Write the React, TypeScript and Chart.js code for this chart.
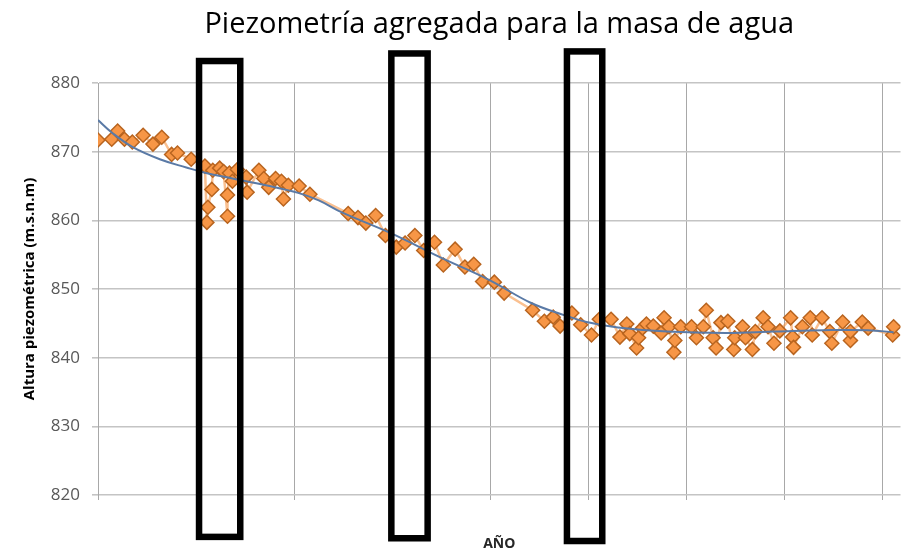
import React, { useEffect, useRef } from "react";
import { Chart, registerables } from "chart.js";

Chart.register(...registerables);

const TITLE = "Piezometría agregada para la masa de agua";
const Y_TITLE = "Altura piezométrica (m.s.n.m)";
const X_TITLE = "AÑO";

// Observations (x in axis-grid units, y in m.s.n.m)
const obsX = [
  0.0, 0.14, 0.2, 0.27, 0.35, 0.46, 0.56, 0.65, 0.75, 0.81, 0.95, 1.09, 1.11, 1.12, 1.16, 1.17,
  1.24, 1.28, 1.32, 1.32, 1.34, 1.37, 1.42, 1.51, 1.52, 1.64, 1.69, 1.74, 1.81, 1.87, 1.89, 1.94,
  2.05, 2.16, 2.55, 2.65, 2.73, 2.83, 2.93, 3.04, 3.13, 3.23, 3.32, 3.43, 3.52, 3.64, 3.74, 3.83,
  3.92, 4.04, 4.14, 4.43, 4.55, 4.64, 4.71, 4.83, 4.92, 5.03, 5.11, 5.23, 5.32, 5.39, 5.42, 5.49,
  5.51, 5.55, 5.59, 5.66, 5.74, 5.77, 5.82, 5.87, 5.88, 5.94, 6.05, 6.1, 6.17, 6.2, 6.27, 6.3, 6.35,
  6.42, 6.48, 6.49, 6.57, 6.6, 6.67, 6.7, 6.78, 6.83, 6.89, 6.95, 7.06, 7.08, 7.09, 7.18, 7.26, 7.28,
  7.38, 7.46, 7.48, 7.59, 7.67, 7.67, 7.79, 7.85, 8.1, 8.11,
];
const obsY = [
  871.7, 871.8, 873.0, 871.8, 871.4, 872.4, 871.1, 872.1, 869.6, 869.8, 868.9, 867.9, 859.7, 861.9, 864.5, 867.3,
  867.6, 867.1, 860.6, 863.7, 866.9, 865.7, 867.4, 866.3, 864.1, 867.3, 866.1, 864.8, 866.1, 865.7, 863.1, 865.1,
  865.0, 863.8, 861.0, 860.4, 859.6, 860.7, 857.8, 856.1, 856.7, 857.8, 855.6, 856.8, 853.5, 855.8, 853.2, 853.6,
  851.1, 851.0, 849.4, 846.9, 845.3, 845.9, 844.6, 846.5, 844.8, 843.3, 845.6, 845.6, 843.0, 844.9, 843.5, 841.4,
  842.9, 844.3, 844.9, 844.6, 843.6, 845.8, 844.5, 840.8, 842.5, 844.5, 844.5, 842.9, 844.5, 846.9, 842.9, 841.4, 845.1,
  845.3, 841.2, 842.9, 844.5, 842.9, 841.2, 843.8, 845.8, 844.5, 842.1, 843.9, 845.8, 843.0, 841.5, 844.5, 845.8, 843.3,
  845.8, 843.8, 842.1, 845.2, 842.5, 843.8, 845.2, 844.3, 843.3, 844.5,
];

// Trend line
const trendX = [0, 0.14, 0.35, 0.63, 0.9, 1.1, 1.37, 1.71, 2.04, 2.25, 2.48, 2.99, 3.49, 3.99, 4.41, 4.75, 4.98, 5.3, 5.8, 6.4, 6.9, 7.4, 7.85, 8.11];
const trendY = [874.6, 872.8, 870.7, 868.9, 867.7, 866.9, 866.1, 865.1, 864.0, 862.9, 861.2, 858.1, 854.6, 851.3, 848.0, 846.2, 845.2, 844.4, 843.8, 843.6, 843.8, 844.0, 844.0, 843.7];

// Highlight boxes (axis units)
const boxX0 = [1.03, 2.99, 4.78];
const boxX1 = [1.45, 3.36, 5.14];
const boxYTop = [883.2, 884.3, 884.6];
const boxYBottom = [813.9, 813.7, 813.3];

const X_MIN = 0;
const X_MAX = 8.18;
const Y_MIN = 820;
const Y_MAX = 880;

const boxesPlugin = {
  id: "boxes",
  afterDraw(chart: any) {
    const { ctx, scales } = chart;
    const xs = scales.x;
    const ys = scales.y;
    ctx.save();
    ctx.strokeStyle = "#000000";
    ctx.lineWidth = 6.5;
    for (let i = 0; i < boxX0.length; i++) {
      const l = xs.getPixelForValue(boxX0[i]);
      const r = xs.getPixelForValue(boxX1[i]);
      const t = ys.getPixelForValue(boxYTop[i]);
      const b = ys.getPixelForValue(boxYBottom[i]);
      ctx.strokeRect(l, t, r - l, b - t);
    }
    ctx.restore();
  },
};

export default function App() {
  const ref = useRef<HTMLCanvasElement>(null);
  useEffect(() => {
    document.body.style.margin = "0";
    const canvas = ref.current;
    if (!canvas) return;
    Chart.defaults.font.family = "'Open Sans', sans-serif";
    const chart = new Chart(canvas, {
      type: "scatter",
      data: {
        datasets: [
          {
            label: "Tendencia",
            data: trendX.map((x, i) => ({ x, y: trendY[i] })),
            showLine: true,
            borderColor: "#5a7aa6",
            borderWidth: 2,
            pointRadius: 0,
            tension: 0.4,
            order: 0,
          },
          {
            label: "Piezometría",
            data: obsX.map((x, i) => ({ x, y: obsY[i] })),
            showLine: true,
            borderColor: "rgba(247,150,70,0.6)",
            borderWidth: 2.5,
            pointStyle: "rectRot",
            pointRadius: 7,
            pointBackgroundColor: "#f79646",
            pointBorderColor: "#b8641f",
            pointBorderWidth: 1.5,
            order: 1,
          },
        ],
      },
      options: {
        responsive: false,
        animation: false,
        events: [],
        layout: { padding: { left: 0, right: 3, top: 0, bottom: 0 } },
        plugins: {
          legend: { display: false },
          tooltip: { enabled: false },
          title: {
            display: true,
            fullSize: false,
            text: TITLE,
            color: "#000000",
            font: { size: 29, weight: "normal", lineHeight: 1.2 },
            padding: { top: 7.6, bottom: 40.6 },
          },
        },
        scales: {
          x: {
            type: "linear",
            min: X_MIN,
            max: X_MAX,
            ticks: { display: false, stepSize: 1, includeBounds: false },
            grid: { color: "#a8a8a8", lineWidth: 1, tickLength: 5, drawTicks: true },
            border: { display: false },
            title: {
              display: true,
              text: X_TITLE,
              color: "#262626",
              font: { size: 14, weight: "bold", lineHeight: 1 },
              padding: { top: 0, bottom: 0 },
            },
            afterFit(scale: any) {
              scale.height = 56;
            },
          },
          y: {
            type: "linear",
            min: Y_MIN,
            max: Y_MAX,
            ticks: { stepSize: 10, color: "#595959", font: { size: 17 }, padding: 12 },
            grid: { color: "#c4c4c4", lineWidth: 1.6, tickLength: 6 },
            border: { display: true, color: "#a8a8a8", width: 1 },
            title: {
              display: true,
              text: Y_TITLE,
              color: "#000000",
              font: { size: 15, weight: "bold", lineHeight: 1.2 },
              padding: { top: 21, bottom: 0 },
            },
            afterFit(scale: any) {
              scale.width = 98;
            },
          },
        },
      },
      plugins: [boxesPlugin],
    });
    return () => chart.destroy();
  }, []);
  return (
    <div style={{ width: 909, height: 551 }}>
      <canvas ref={ref} width={909} height={551} style={{ display: "block" }} />
    </div>
  );
}
